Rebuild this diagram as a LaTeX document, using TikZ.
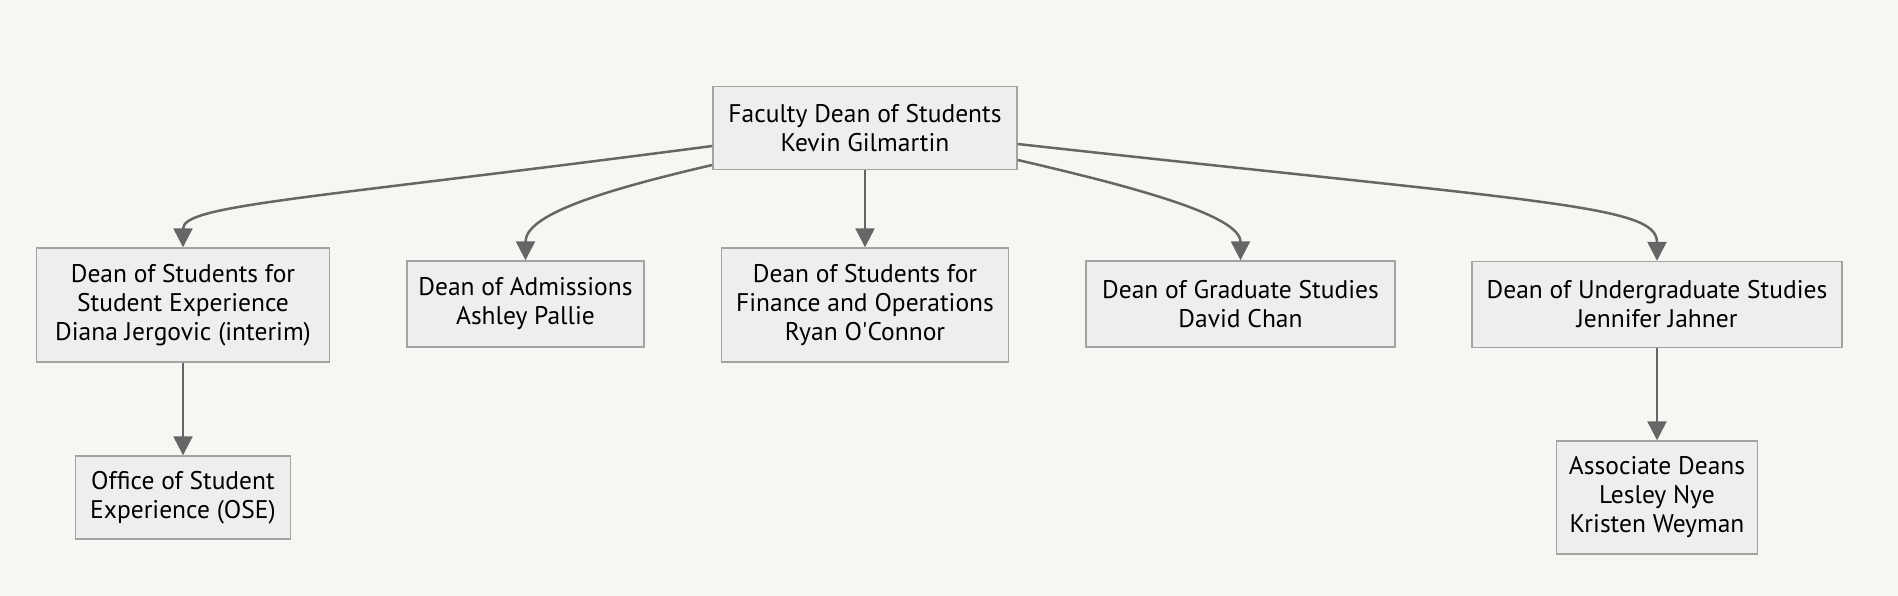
\documentclass[tikz,border=0pt]{standalone}
\usepackage{fontspec}
\setmainfont{PT Sans}
\usepackage{xcolor}
\usetikzlibrary{positioning,arrows.meta}

\definecolor{pagebg}{HTML}{F7F6F2}
\definecolor{boxfill}{HTML}{EEEEEE}
\definecolor{boxline}{HTML}{A3A3A3}
\definecolor{edgeline}{HTML}{666666}

\tikzset{
    deanbox/.style={draw=boxline, line width=1.4pt, rectangle, fill=boxfill,
        align=center, inner sep=0pt, text=black,
        font=\fontsize{25.5}{29}\selectfont},
    reports/.style={draw=edgeline, line width=2.5pt,
        -{Triangle[width=19pt, length=19pt]}}
}

\begin{document}
\begin{tikzpicture}[x=1pt, y=-1pt]
    \fill[pagebg] (0,0) rectangle (1898,596);
    \useasboundingbox (0,0) rectangle (1898,596);

    % top of the chart
    \node[deanbox, minimum width=304pt, minimum height=83pt] (faculty) at (865,128)
        {Faculty Dean of Students\\Kevin Gilmartin};

    % the five deans
    \node[deanbox, minimum width=293pt, minimum height=114pt] (studexp) at (183,305)
        {Dean of Students for\\Student Experience\\Diana Jergovic (interim)};
    \node[deanbox, minimum width=237pt, minimum height=86pt] (admissions) at (525.5,304)
        {Dean of Admissions\\Ashley Pallie};
    \node[deanbox, minimum width=287pt, minimum height=114pt] (finance) at (865,305)
        {Dean of Students for\\Finance and Operations\\Ryan O\textquotesingle Connor};
    \node[deanbox, minimum width=309pt, minimum height=86pt] (graduate) at (1240.5,304)
        {Dean of Graduate Studies\\David Chan};
    \node[deanbox, minimum width=370pt, minimum height=86pt] (undergrad) at (1657,304.5)
        {Dean of Undergraduate Studies\\Jennifer Jahner};

    % bottom row
    \node[deanbox, minimum width=215pt, minimum height=83pt] (ose) at (183,497.5)
        {Office of Student\\Experience (OSE)};
    \node[deanbox, minimum width=201pt, minimum height=113pt] (assoc) at (1657,497.5)
        {Associate Deans\\Lesley Nye\\Kristen Weyman};

    \draw[reports] (faculty.west |- 0,146) .. controls (300,200) and (183,205) .. (studexp.north);
    \draw[reports] (faculty.west |- 0,165) .. controls (600,191) and (525.5,215) .. (admissions.north);
    \draw[reports] (faculty.south) -- (finance.north);
    \draw[reports] (faculty.east |- 0,160) .. controls (1130,186) and (1240.5,215) .. (graduate.north);
    \draw[reports] (faculty.east |- 0,144) .. controls (1550,203) and (1657,205) .. (undergrad.north);
    \draw[reports] (studexp.south) -- (ose.north);
    \draw[reports] (undergrad.south) -- (assoc.north);
\end{tikzpicture}
\end{document}
